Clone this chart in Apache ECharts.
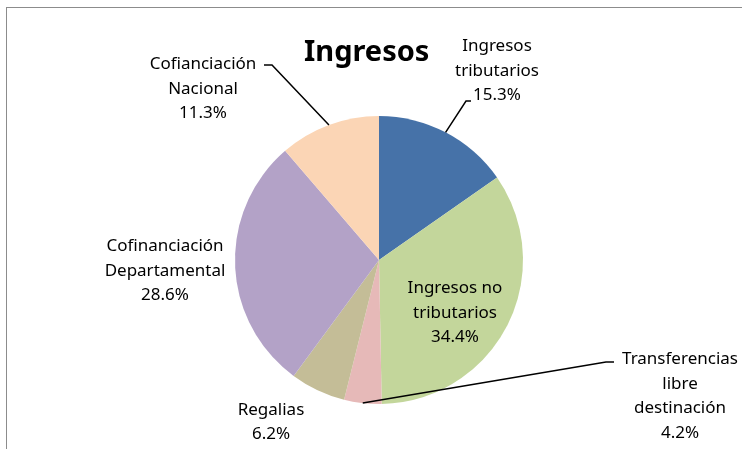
<!DOCTYPE html>
<html>
<head>
<meta charset="utf-8">
<script src="https://cdn.jsdelivr.net/npm/echarts@6/dist/echarts.min.js"></script>
<style>
html,body{margin:0;padding:0;background:#fff;}
#c{width:742px;height:449px;}
</style>
</head>
<body>
<div id="c"></div>
<script>
const categories = [
  'Ingresos\ntributarios',
  'Ingresos no\ntributarios',
  'Transferencias\nlibre\ndestinación',
  'Regalias',
  'Cofinanciación\nDepartamental',
  'Cofianciación\nNacional'
];
const values = [15.3, 34.4, 4.2, 6.2, 28.6, 11.3];
const colors = ['#4672A8', '#C3D69B', '#E6B9B8', '#C4BD97', '#B3A2C7', '#FBD5B5'];
const titleText = 'Ingresos';

// label placements (text anchors) and leader-line elbows
const labelPos = [
  {x: 497, y: 71, line: [[466, 101], [471, 101]]},
  {x: 455, y: 313, line: null},
  {x: 680, y: 396, line: [[606, 362], [614, 362]]},
  {x: 271, y: 422, line: null},
  {x: 165, y: 271, line: null},
  {x: 203, y: 89, line: [[272, 65], [264, 65]]}
];

const cx = 379, cy = 260, R = 144;

const chart = echarts.init(document.getElementById('c'), null, {renderer: 'canvas'});
const fillData = categories.map((n, i) => ({
  name: n,
  value: values[i],
  itemStyle: {color: colors[i]}
}));
const labelData = categories.map((n, i) => ({
  name: n,
  value: values[i],
  itemStyle: {color: 'rgba(0,0,0,0)'},
  labelLine: {show: !!labelPos[i].line}
}));

chart.setOption({
  animation: false,
  title: {
    text: titleText,
    left: 299,
    top: 33,
    textStyle: {fontFamily: "'Noto Sans', sans-serif", fontWeight: 'bold', fontSize: 29, color: '#000'}
  },
  graphic: [
    {type: 'line', shape: {x1: 6, y1: 7.5, x2: 742, y2: 7.5}, style: {stroke: '#8c8c8c', lineWidth: 1}, silent: true},
    {type: 'line', shape: {x1: 6.5, y1: 7, x2: 6.5, y2: 449}, style: {stroke: '#8c8c8c', lineWidth: 1}, silent: true}
  ],
  series: [{
    type: 'pie',
    z: 2,
    center: [cx, cy],
    radius: R,
    startAngle: 90,
    clockwise: true,
    emphasis: {disabled: true},
    itemStyle: {borderWidth: 0},
    label: {show: false},
    labelLine: {show: false},
    data: fillData
  }, {
    type: 'pie',
    z: 3,
    silent: true,
    center: [cx, cy],
    radius: R,
    startAngle: 90,
    clockwise: true,
    avoidLabelOverlap: false,
    emphasis: {disabled: true},
    itemStyle: {borderWidth: 0},
    label: {
      show: true,
      position: 'outside',
      formatter: p => p.name + '\n' + p.value.toFixed(1) + '%',
      fontFamily: "'Noto Sans', sans-serif",
      fontSize: 17,
      lineHeight: 24.5,
      color: '#000',
      align: 'center'
    },
    labelLine: {
      show: true,
      showAbove: true,
      length: 10,
      length2: 10,
      lineStyle: {color: '#000', width: 1.5}
    },
    labelLayout: function (params) {
      const lp = labelPos[params.dataIndex];
      const out = {x: lp.x, y: lp.y, align: 'center', verticalAlign: 'middle'};
      if (lp.line && params.labelLinePoints) {
        out.labelLinePoints = [params.labelLinePoints[0], lp.line[0], lp.line[1]];
      }
      return out;
    },
    data: labelData
  }]
});
</script>
</body>
</html>
